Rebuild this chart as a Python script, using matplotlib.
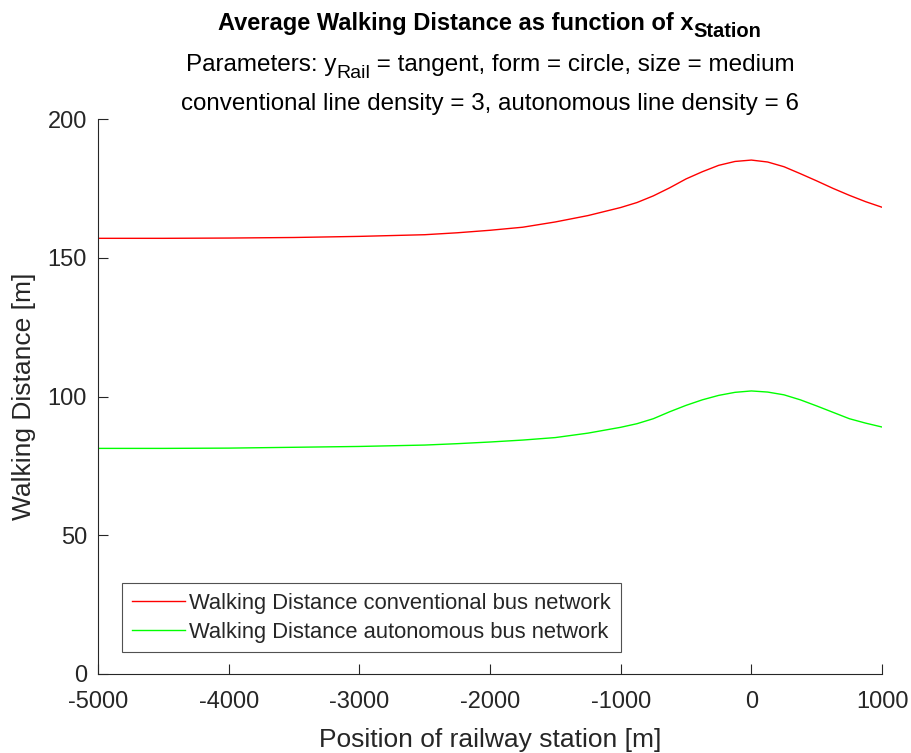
import matplotlib
matplotlib.use("Agg")
import matplotlib.pyplot as plt
from matplotlib.transforms import IdentityTransform

FONT = "Liberation Sans"
plt.rcParams['font.family'] = [FONT, 'DejaVu Sans']
plt.rcParams['axes.unicode_minus'] = False

x_station = [-5000, -4500, -4000, -3500, -3000, -2500, -2250, -2000, -1750, -1500,
             -1250, -1000, -875, -750, -625, -500, -375, -250, -125, 0,
             125, 250, 375, 500, 625, 750, 875, 1000]
walk_conventional = [157.0, 157.0, 157.1, 157.3, 157.7, 158.3, 159.0, 159.9, 161.0, 162.9,
                     165.2, 168.1, 169.9, 172.3, 175.2, 178.4, 181.0, 183.3, 184.7, 185.2,
                     184.5, 182.8, 180.3, 177.7, 175.0, 172.5, 170.2, 168.2]
walk_autonomous = [81.3, 81.3, 81.4, 81.7, 82.0, 82.5, 83.0, 83.6, 84.3, 85.2,
                   86.8, 88.9, 90.2, 92.0, 94.5, 96.8, 98.8, 100.4, 101.5, 102.0,
                   101.6, 100.6, 98.8, 96.6, 94.3, 92.0, 90.4, 89.0]
x_ticks = [-5000, -4000, -3000, -2000, -1000, 0, 1000]
y_ticks = [0, 50, 100, 150, 200]

W, H = 911, 753
L, R, T, B = 98, 882, 119, 674
fig = plt.figure(figsize=(W / 100, H / 100), dpi=100)
ax = fig.add_axes([L / W, (H - B) / H, (R - L) / W, (B - T) / H])

ax.plot(x_station, walk_conventional, color=(1, 0, 0), lw=1.0,
        label='Walking Distance conventional bus network')
ax.plot(x_station, walk_autonomous, color=(0, 1, 0), lw=1.0,
        label='Walking Distance autonomous bus network')

ax.set_xlim(-5000, 1000)
ax.set_ylim(0, 200)
ax.set_xticks(x_ticks)
ax.set_yticks(y_ticks)
ax.spines['top'].set_visible(False)
ax.spines['right'].set_visible(False)
for s in ('left', 'bottom'):
    ax.spines[s].set_color('#262626')
    ax.spines[s].set_linewidth(0.8)
ax.tick_params(direction='in', length=7, width=0.8, colors='#262626',
               labelsize=17, labelcolor='#262626')
ax.tick_params(axis='x', pad=12)
ax.tick_params(axis='y', pad=8)

ax.set_xlabel('Position of railway station [m]', fontsize=19, color='#262626', labelpad=11)
ax.set_ylabel('Walking Distance [m]', fontsize=19, color='#262626', labelpad=8)

renderer = fig.canvas.get_renderer()


def composite_text(xc, baseline_from_top, parts):
    """parts: list of (string, fontsize, weight, drop_px) drawn side by side, centred at xc."""
    items = []
    for s, size, weight, drop in parts:
        t = fig.text(0, 0, s, fontsize=size, fontweight=weight, color='black',
                     ha='left', va='baseline', transform=IdentityTransform())
        w = t.get_window_extent(renderer=renderer).width
        items.append((t, w, drop))
    total = sum(w for _, w, _ in items)
    x = xc - total / 2
    for t, w, drop in items:
        t.set_position((x, H - baseline_from_top - drop))
        x += w


xc = (L + R) / 2
composite_text(xc, 30, [('Average Walking Distance as function of x', 17, 'bold', 0),
                        ('Station', 14.5, 'bold', 7)])
composite_text(xc, 71, [('Parameters: y', 17.5, 'normal', 0),
                        ('Rail', 14, 'normal', 7),
                        (' = tangent, form = circle, size = medium', 17.5, 'normal', 0)])
composite_text(xc, 110, [('conventional line density = 3, autonomous line density = 6',
                          17.4, 'normal', 0)])

leg = ax.legend(loc='upper left', bbox_to_anchor=((122 - L) / (R - L), (B - 583) / (B - T)),
                fontsize=15.8, frameon=True, fancybox=False, edgecolor='#262626',
                borderpad=0.45, handlelength=2.4, handletextpad=0.2, labelspacing=0.35,
                borderaxespad=0)
leg.get_frame().set_linewidth(0.8)
for t in leg.get_texts():
    t.set_color('#262626')

fig.savefig('out.png', dpi=100)
